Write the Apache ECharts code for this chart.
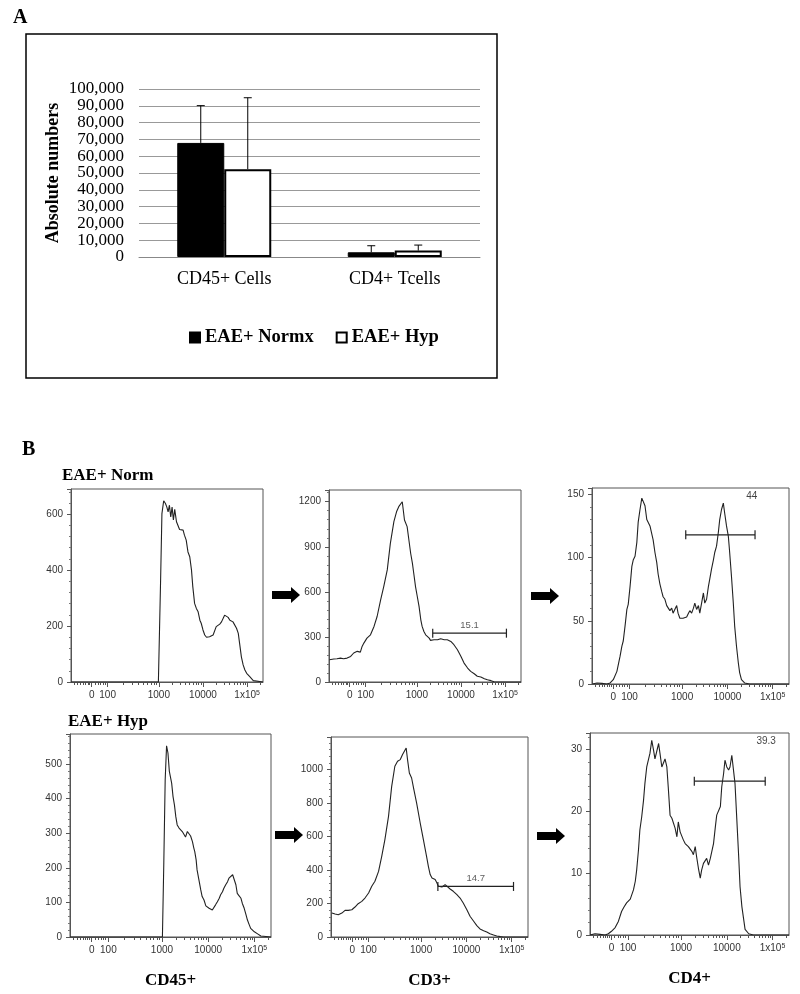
<!DOCTYPE html>
<html>
<head>
<meta charset="utf-8">
<script src="https://cdn.jsdelivr.net/npm/echarts@6/dist/echarts.min.js"></script>
<style>
html, body { margin: 0; padding: 0; background: #fff; }
#chart { width: 800px; height: 994px; }
</style>
</head>
<body>
<div id="chart"></div>
<script>
// ---- panel A: absolute numbers ----
var barCategories = ['CD45+ Cells', 'CD4+ Tcells'];
var normxMeans = [67900, 2800];
var normxErrors = [22200, 3900];
var hypMeans = [52300, 3800];
var hypErrors = [42500, 3300];
var countTicks = [0, 10000, 20000, 30000, 40000, 50000, 60000, 70000, 80000, 90000, 100000];

// ---- panel B: histograms, [axis position in decades, count] ----
// axis position: 1000 -> 3, 10000 -> 4, 1x10^5 -> 5 (biexponential display)
var xTickPos = [1.48, 1.84, 3, 4, 5];
var xTickText = ['0', '100', '1000', '10000', '1x10{sup|5}'];

var normCD45 = [[1.01,0],[2.99,0],[3.04,364],[3.07,602],[3.11,648],[3.15,638],[3.18,626],[3.21,608],[3.24,632],[3.27,590],[3.30,625],[3.33,579],[3.36,617],[3.40,573],[3.43,567],[3.47,545],[3.55,543],[3.58,525],[3.62,507],[3.66,465],[3.70,448],[3.74,400],[3.77,340],[3.81,281],[3.85,263],[3.89,251],[3.93,221],[3.96,210],[4.00,186],[4.04,168],[4.08,160],[4.11,156],[4.15,162],[4.19,156],[4.23,168],[4.27,174],[4.30,198],[4.34,204],[4.38,207],[4.42,215],[4.46,210],[4.49,239],[4.53,233],[4.57,231],[4.61,221],[4.65,224],[4.68,215],[4.72,210],[4.76,192],[4.80,174],[4.83,138],[4.87,90],[4.91,61],[4.95,43],[4.99,31],[5.06,19],[5.14,5],[5.18,0],[5.36,0]];

var normCD3 = [[1.02,148],[1.12,153],[1.19,155],[1.27,159],[1.34,155],[1.42,159],[1.50,170],[1.57,193],[1.65,204],[1.72,199],[1.76,237],[1.80,259],[1.87,292],[1.95,314],[2.03,370],[2.10,436],[2.18,547],[2.25,635],[2.33,746],[2.40,923],[2.48,1067],[2.54,1133],[2.59,1167],[2.63,1178],[2.67,1200],[2.69,1189],[2.72,1078],[2.75,1089],[2.78,1034],[2.82,945],[2.86,857],[2.90,790],[2.93,724],[2.97,635],[3.01,569],[3.05,503],[3.09,414],[3.12,370],[3.16,336],[3.20,314],[3.24,303],[3.28,292],[3.31,277],[3.39,281],[3.47,281],[3.54,288],[3.62,281],[3.69,281],[3.77,270],[3.81,281],[3.84,248],[3.92,215],[4.00,170],[4.07,126],[4.15,93],[4.22,71],[4.30,55],[4.37,38],[4.45,33],[4.53,22],[4.60,15],[4.68,9],[4.75,2],[4.83,0],[5.36,0]];

var normCD4 = [[1.02,0],[1.04,1.3],[1.12,0.8],[1.23,0.5],[1.34,0],[1.41,0.8],[1.48,3.4],[1.56,10],[1.63,22],[1.67,30],[1.70,34],[1.74,46],[1.78,59],[1.81,63],[1.85,77],[1.89,93],[1.92,98],[1.96,101],[2.00,112],[2.03,128],[2.07,138],[2.11,147],[2.14,146],[2.18,141],[2.22,130],[2.25,131],[2.29,125],[2.33,126],[2.36,114],[2.40,104],[2.44,96],[2.47,87],[2.51,79],[2.55,73],[2.58,69],[2.62,67],[2.66,62],[2.69,63],[2.73,58],[2.77,60],[2.80,56],[2.84,55],[2.88,62],[2.91,56],[2.95,52],[3.02,52],[3.10,53],[3.14,56],[3.17,58],[3.21,56],[3.25,60],[3.28,64],[3.32,59],[3.36,62],[3.39,56],[3.43,64],[3.47,72],[3.50,64],[3.54,67],[3.58,77],[3.61,83],[3.65,91],[3.69,98],[3.72,104],[3.76,109],[3.80,120],[3.83,130],[3.87,138],[3.91,143],[3.94,135],[3.98,125],[4.02,117],[4.05,104],[4.09,85],[4.13,64],[4.16,46],[4.20,30],[4.24,17],[4.27,9],[4.31,3.4],[4.38,0.8],[4.49,0],[5.36,0]];

var hypCD45 = [[1.01,0],[3.01,0],[3.04,213],[3.07,455],[3.10,553],[3.13,532],[3.16,479],[3.19,474],[3.21,445],[3.24,406],[3.27,382],[3.30,348],[3.33,324],[3.37,315],[3.40,310],[3.44,305],[3.48,300],[3.51,289],[3.55,305],[3.58,310],[3.62,292],[3.66,276],[3.69,257],[3.71,247],[3.74,223],[3.76,194],[3.80,165],[3.84,136],[3.87,117],[3.91,107],[3.95,90],[3.98,86],[4.02,83],[4.05,83],[4.09,78],[4.13,83],[4.16,93],[4.20,102],[4.24,112],[4.27,122],[4.31,131],[4.34,141],[4.38,151],[4.42,160],[4.45,170],[4.49,175],[4.53,180],[4.56,175],[4.60,151],[4.63,126],[4.67,119],[4.71,112],[4.74,97],[4.78,83],[4.82,64],[4.85,49],[4.89,35],[4.92,25],[5.00,15],[5.07,9],[5.14,3],[5.18,0],[5.36,0]];

var hypCD3 = [[1.03,143],[1.10,137],[1.17,133],[1.25,143],[1.32,159],[1.39,159],[1.47,163],[1.54,179],[1.61,199],[1.69,213],[1.76,233],[1.84,263],[1.91,303],[1.98,333],[2.06,392],[2.13,482],[2.20,582],[2.28,721],[2.35,900],[2.42,1020],[2.48,1050],[2.54,1060],[2.59,1090],[2.62,1080],[2.67,1129],[2.70,1060],[2.74,980],[2.79,950],[2.84,880],[2.90,801],[2.98,681],[3.05,582],[3.12,482],[3.16,422],[3.20,373],[3.24,353],[3.27,343],[3.31,343],[3.35,323],[3.38,303],[3.46,299],[3.53,313],[3.57,303],[3.64,287],[3.71,273],[3.79,253],[3.86,233],[3.93,203],[4.01,163],[4.08,124],[4.16,94],[4.23,68],[4.30,48],[4.38,38],[4.45,30],[4.52,20],[4.60,12],[4.67,6],[4.75,2],[4.82,0],[5.36,0]];

var hypCD4 = [[1.01,0],[1.03,0.3],[1.12,0.2],[1.23,0.1],[1.34,0],[1.41,0.2],[1.48,0.6],[1.56,1.2],[1.63,2.2],[1.70,3.8],[1.75,4.5],[1.81,5.2],[1.89,5.8],[1.96,7.3],[2.00,8.7],[2.03,10.5],[2.07,13.8],[2.10,17.0],[2.14,19.1],[2.18,21.8],[2.21,24.5],[2.25,27.2],[2.29,27.5],[2.32,29.4],[2.36,31.5],[2.40,29.9],[2.43,28.5],[2.47,28.3],[2.51,31.0],[2.54,29.4],[2.58,27.2],[2.62,27.5],[2.65,28.5],[2.69,27.2],[2.72,24.0],[2.76,19.4],[2.80,18.9],[2.83,18.6],[2.87,17.3],[2.91,15.9],[2.94,18.3],[2.98,16.7],[3.02,16.5],[3.05,15.4],[3.09,14.8],[3.13,14.6],[3.16,14.3],[3.20,14.6],[3.24,13.5],[3.27,13.0],[3.31,14.3],[3.34,12.7],[3.38,10.8],[3.42,9.2],[3.45,10.5],[3.49,11.6],[3.53,11.9],[3.56,12.4],[3.60,11.3],[3.64,12.4],[3.67,12.7],[3.71,14.8],[3.75,17.5],[3.78,19.4],[3.82,19.4],[3.86,20.8],[3.89,24.0],[3.93,26.1],[3.96,28.3],[4.00,27.2],[4.04,26.7],[4.07,27.2],[4.11,29.1],[4.15,28.8],[4.18,24.5],[4.22,18.6],[4.26,12.7],[4.29,7.8],[4.33,4.6],[4.37,2.5],[4.40,0.9],[4.48,0.2],[4.58,0],[5.36,0]];

// gates: [from, to, level], percentages
var normCD3Gate = [3.36, 5.03, 325];
var normCD4Gate = [3.08, 4.61, 118];
var hypCD3Gate = [3.37, 5.04, 302];
var hypCD4Gate = [3.29, 4.84, 24.9];
var gatePercents = ['15.1', '44', '14.7', '39.3'];

var X_MIN = 1.01, X_MAX = 5.36;
var serif = 'Liberation Serif';
var sans = 'Liberation Sans';
var ink = '#333';

// minor tick positions on the biexponential axis
var minorPos = [1.08, 1.16, 1.23, 1.29, 1.34, 1.39, 1.43, 1.55, 1.62, 1.68, 1.73, 1.78];
for (var k = 2; k <= 9; k++) minorPos.push(1.84 + 1.16 * Math.log10(k));
[3, 4].forEach(function (n) {
    for (var k = 2; k <= 9; k++) minorPos.push(n + Math.log10(k));
});
minorPos.push(5 + Math.log10(2));

var panels = [
    { data: normCD45, yMax: 690, step: 200, box: [71, 489, 192, 193] },
    { data: normCD3, yMax: 1278, step: 300, box: [329, 490, 192, 192], gate: normCD3Gate, pct: gatePercents[0] },
    { data: normCD4, yMax: 155, step: 50, box: [592, 488, 197, 196], gate: normCD4Gate, pct: gatePercents[1], pctAt: [4.54, 148.6] },
    { data: hypCD45, yMax: 587, step: 100, box: [70, 734, 201, 203], name: 'CD45+' },
    { data: hypCD3, yMax: 1195, step: 200, box: [331, 737, 197, 200], gate: hypCD3Gate, pct: gatePercents[2], name: 'CD3+' },
    { data: hypCD4, yMax: 32.7, step: 10, box: [590, 733, 199, 202], gate: hypCD4Gate, pct: gatePercents[3], pctAt: [4.86, 31.3], name: 'CD4+' }
];

function commas(v) { return String(v).replace(/\B(?=(\d{3})+(?!\d))/g, ','); }
// labels split over two overlapping axes so none is dropped for crowding
function countAxis(values, withName) {
    return {
        type: 'value', gridIndex: 0, position: 'left', min: 0, max: 100000, interval: 10000,
        name: withName ? 'Absolute numbers' : '', nameLocation: 'middle', nameGap: 77,
        nameTextStyle: { fontFamily: serif, fontWeight: 'bold', fontSize: 18, color: '#000' },
        axisLine: { show: false }, axisTick: { show: false },
        splitLine: { show: withName, lineStyle: { color: '#999' } },
        axisLabel: {
            customValues: values, fontFamily: serif, fontSize: 17, color: '#000', margin: 15,
            formatter: commas
        }
    };
}

var grids = [{ left: 139, top: 89, width: 341, height: 168 }];
var xAxes = [{
    type: 'category', gridIndex: 0, data: barCategories,
    axisLine: { lineStyle: { color: '#888' } },
    axisTick: { length: 6, lineStyle: { color: '#888' } },
    axisLabel: { fontFamily: serif, fontSize: 18, color: '#000', margin: 13 }
}];
var yAxes = [
    countAxis(countTicks.filter(function (v, i) { return i % 2 === 0; }), true),
    countAxis(countTicks.filter(function (v, i) { return i % 2 === 1; }), false)
];

function errorSeries(means, errs, shift) {
    return {
        type: 'custom', xAxisIndex: 0, yAxisIndex: 0, z: 5,
        data: means.map(function (m, i) { return [i, m, errs[i]]; }),
        encode: { x: 0, y: 1 },
        renderItem: function (params, api) {
            var base = api.coord([api.value(0), api.value(1)]);
            var top = api.coord([api.value(0), api.value(1) + api.value(2)]);
            var x = base[0] + shift;
            return {
                type: 'group',
                children: [
                    { type: 'line', shape: { x1: x, y1: base[1], x2: x, y2: top[1] }, style: { stroke: '#000', lineWidth: 1 } },
                    { type: 'line', shape: { x1: x - 4, y1: top[1], x2: x + 4, y2: top[1] }, style: { stroke: '#000', lineWidth: 1 } }
                ]
            };
        }
    };
}

var series = [
    {
        name: 'EAE+ Normx', type: 'bar', xAxisIndex: 0, yAxisIndex: 0,
        data: normxMeans, barWidth: 47, barGap: '0%',
        itemStyle: { color: '#000', borderColor: '#000', borderWidth: 1 }
    },
    {
        name: 'EAE+ Hyp', type: 'bar', xAxisIndex: 0, yAxisIndex: 0,
        data: hypMeans, barWidth: 47,
        itemStyle: { color: '#fff', borderColor: '#000', borderWidth: 2 }
    },
    errorSeries(normxMeans, normxErrors, -23.5),
    errorSeries(hypMeans, hypErrors, 23.5)
];

panels.forEach(function (p, i) {
    var g = i + 1;
    grids.push({
        left: p.box[0], top: p.box[1], width: p.box[2], height: p.box[3],
        show: true, borderColor: '#555', borderWidth: 1, backgroundColor: 'transparent'
    });
    var xi = xAxes.length;
    xAxes.push({
        type: 'value', gridIndex: g, position: 'bottom', min: X_MIN, max: X_MAX,
        axisLine: { show: true, onZero: false, lineStyle: { color: '#555' } },
        axisTick: { show: true, customValues: xTickPos, length: 5, lineStyle: { color: '#555' } },
        axisLabel: {
            customValues: xTickPos, fontFamily: sans, fontSize: 10, color: ink, margin: 8,
            formatter: function (v) {
                for (var j = 0; j < xTickPos.length; j++) {
                    if (Math.abs(xTickPos[j] - v) < 1e-6) return xTickText[j];
                }
                return '';
            },
            rich: { sup: { fontFamily: sans, fontSize: 7, color: ink, verticalAlign: 'top', lineHeight: 8 } }
        },
        splitLine: { show: false },
        name: p.name || '', nameLocation: 'middle', nameGap: 35,
        nameTextStyle: { fontFamily: serif, fontWeight: 'bold', fontSize: 17, color: '#000' }
    });
    xAxes.push({
        type: 'value', gridIndex: g, position: 'bottom', min: X_MIN, max: X_MAX,
        axisLine: { show: false },
        axisTick: { show: true, customValues: minorPos, length: 3, lineStyle: { color: '#555' } },
        axisLabel: { show: false }, splitLine: { show: false }
    });
    var yi = yAxes.length;
    yAxes.push({
        type: 'value', gridIndex: g, min: 0, max: p.yMax, interval: p.step,
        axisLine: { show: true, lineStyle: { color: '#555' } },
        axisTick: { show: true, length: 4, lineStyle: { color: '#555' } },
        minorTick: { show: true, splitNumber: 5, length: 2, lineStyle: { color: '#777' } },
        axisLabel: {
            fontFamily: sans, fontSize: 10, color: ink, margin: 8, showMaxLabel: false,
            formatter: function (v) { return String(v); }
        },
        splitLine: { show: false }
    });
    series.push({
        type: 'line', xAxisIndex: xi, yAxisIndex: yi, data: p.data,
        showSymbol: false, symbol: 'none',
        lineStyle: { color: '#222', width: 1.1 }
    });
    if (p.gate) {
        series.push({
            type: 'line', xAxisIndex: xi, yAxisIndex: yi,
            data: [[p.gate[0], p.gate[2]], [p.gate[1], p.gate[2]]],
            symbol: 'rect', symbolSize: [1.2, 9], showSymbol: true,
            itemStyle: { color: '#222' }, lineStyle: { color: '#222', width: 1.3 }
        });
        var at = p.pctAt || [(p.gate[0] + p.gate[1]) / 2, p.gate[2]];
        series.push({
            type: 'scatter', xAxisIndex: xi, yAxisIndex: yi, data: [at],
            symbolSize: 0,
            label: {
                show: true, formatter: p.pct, position: p.pctAt ? 'inside' : 'top', distance: 3,
                fontFamily: sans, fontSize: p.pctAt ? 10 : 9.5, color: p.pctAt ? '#111' : ink
            }
        });
    }
});

function arrow(x0, x1, yc) {
    return {
        type: 'polygon',
        shape: { points: [[x0, yc - 4], [x1 - 9, yc - 4], [x1 - 9, yc - 8], [x1, yc], [x1 - 9, yc + 8], [x1 - 9, yc + 4], [x0, yc + 4]] },
        style: { fill: '#000' }
    };
}

var chart = echarts.init(document.getElementById('chart'));
chart.setOption({
    animation: false,
    backgroundColor: '#fff',
    title: [
        { text: 'A', left: 13, top: 8, padding: 0, textStyle: { fontFamily: serif, fontWeight: 'bold', fontSize: 20, color: '#000' } },
        { text: 'B', left: 22, top: 440, padding: 0, textStyle: { fontFamily: serif, fontWeight: 'bold', fontSize: 20, color: '#000' } },
        { text: 'EAE+ Norm', left: 62, top: 467, padding: 0, textStyle: { fontFamily: serif, fontWeight: 'bold', fontSize: 17, color: '#000' } },
        { text: 'EAE+ Hyp', left: 68, top: 713, padding: 0, textStyle: { fontFamily: serif, fontWeight: 'bold', fontSize: 17, color: '#000' } }
    ],
    legend: {
        data: ['EAE+ Normx', 'EAE+ Hyp'], left: 184, top: 323,
        icon: 'rect', itemWidth: 10, itemHeight: 10, itemGap: 22,
        textStyle: { fontFamily: serif, fontWeight: 'bold', fontSize: 18.5, color: '#000' }
    },
    grid: grids,
    xAxis: xAxes,
    yAxis: yAxes,
    series: series,
    graphic: [
        { type: 'rect', shape: { x: 26, y: 34, width: 471, height: 344 }, style: { fill: 'none', stroke: '#000', lineWidth: 1.5 } },
        arrow(272, 300, 595),
        arrow(531, 559, 596),
        arrow(275, 303, 835),
        arrow(537, 565, 836)
    ]
});
</script>
</body>
</html>
